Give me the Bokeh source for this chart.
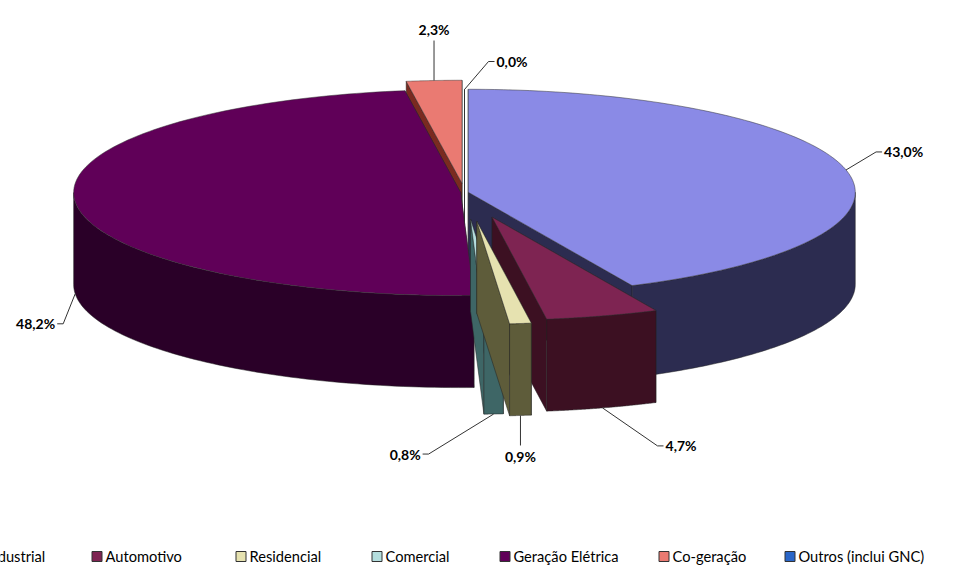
import numpy as np
from bokeh.plotting import figure
from bokeh.models import Range1d
from bokeh.core.properties import value
from bokeh.embed import file_html
from bokeh.resources import INLINE

categories = ["Industrial", "Automotivo", "Residencial", "Comercial",
              "Geração Elétrica", "Co-geração", "Outros (inclui GNC)"]
shares = [43.0, 4.7, 0.9, 0.8, 48.2, 2.3, 0.0]
labels = ["43,0%", "4,7%", "0,9%", "0,8%", "48,2%", "2,3%", "0,0%"]
top_colors = ["#8a8ae6", "#7e2452", "#e6e2b0", "#b4dede", "#600058", "#ea7a72", "#2a66c8"]
side_colors = ["#2c2c50", "#3c1022", "#5e5c3a", "#3e6666", "#2a0028", "#7a2a20", "#163a70"]
explode = [0.01, 0.25, 0.28, 0.26, 0.01, 0.09, 0.0]

# label layout: anchor on bottom edge?, elbow offset, text side
lab_bottom = [0, 1, 1, 1, 1, 0, 0]
lab_elbow = [(30, -18), (55, 38), (0, 30), (-65, 40), (-12, 30), (0, -40), (24, -28)]
lab_side = ["right", "right", "below", "left", "left", "above", "right"]

# pie geometry in screen pixels
cx, cy, rx, ry, depth = 466, 192, 387, 103, 92

p = figure(width=949, height=565, output_backend="svg", toolbar_location=None,
           x_range=Range1d(2, 951), y_range=Range1d(565, 0), min_border=0)
p.axis.visible = False
p.grid.visible = False
p.outline_line_color = None
p.background_fill_color = "white"


def pt(a, ox, oy, r=1.0):
    return ox + r * rx * np.cos(a), oy - r * ry * np.sin(a)


total = sum(shares)
slices = []
start = np.pi / 2
for i, s in enumerate(shares):
    span = 2 * np.pi * s / total
    a0, a1 = start, start - span
    mid = (a0 + a1) / 2
    ox = cx + explode[i] * rx * np.cos(mid)
    oy = cy - explode[i] * ry * np.sin(mid)
    slices.append((i, a0, a1, mid, ox, oy))
    start = a1

# back slices first
order = sorted(slices, key=lambda t: t[5])
for i, a0, a1, mid, ox, oy in order:
    faces = []
    for a, nrm in ((a0, a0 + np.pi / 2), (a1, a1 - np.pi / 2)):
        ex, ey = pt(a, ox, oy)
        poly = ([ox, ex, ex, ox], [oy, ey, ey + depth, oy + depth])
        faces.append((np.sin(nrm) < 0, poly))
    faces.sort(key=lambda f: f[0])
    for vis, (xs, ys) in faces:
        p.patch(xs, ys, fill_color=side_colors[i], line_color="#222222", line_width=0.5)
    lo, hi = max(a1, -np.pi), min(a0, 0.0)
    if hi > lo:
        t = np.linspace(lo, hi, 80)
        xs, ys = pt(t, ox, oy)
        p.patch(list(xs) + list(xs[::-1]), list(ys) + list(ys[::-1] + depth),
                fill_color=side_colors[i], line_color="#222222", line_width=0.5)
    t = np.linspace(a1, a0, 120)
    xs, ys = pt(t, ox, oy)
    p.patch([ox] + list(xs), [oy] + list(ys), fill_color=top_colors[i],
            line_color="#333333", line_width=0.5)

# data labels with leader lines
for i, a0, a1, mid, ox, oy in slices:
    ex, ey = pt(mid, ox, oy)
    ey += depth * lab_bottom[i]
    kx, ky = ex + lab_elbow[i][0], ey + lab_elbow[i][1]
    side = lab_side[i]
    if side in ("right", "left"):
        hx = kx + (6 if side == "right" else -6)
        p.line([ex, kx, hx], [ey, ky, ky], line_color="#333333", line_width=1)
        p.text([hx], [ky], text=[labels[i]], text_font=value("Lato"), text_font_style="bold",
               text_font_size="10.5pt", text_color="#000000", text_baseline="middle",
               text_align="left" if side == "right" else "right",
               x_offset=2 if side == "right" else -2)
    else:
        p.line([ex, kx], [ey, ky], line_color="#333333", line_width=1)
        p.text([kx], [ky], text=[labels[i]], text_font=value("Lato"), text_font_style="bold",
               text_font_size="10.5pt", text_color="#000000", text_align="center",
               text_baseline="top" if side == "below" else "bottom",
               y_offset=3 if side == "below" else -3)

# legend row
leg_x = [-27, 93, 237, 373, 501, 660, 786]
for i, name in enumerate(categories):
    p.rect([leg_x[i] + 5.5], [556], width=10, height=10, fill_color=top_colors[i],
           line_color="#333333", line_width=1)
    p.text([leg_x[i] + 14], [556], text=[name], text_font=value("Lato"),
           text_font_size="11pt", text_color="#000000", text_baseline="middle")

open("out.html", "w").write(file_html(p, INLINE))
